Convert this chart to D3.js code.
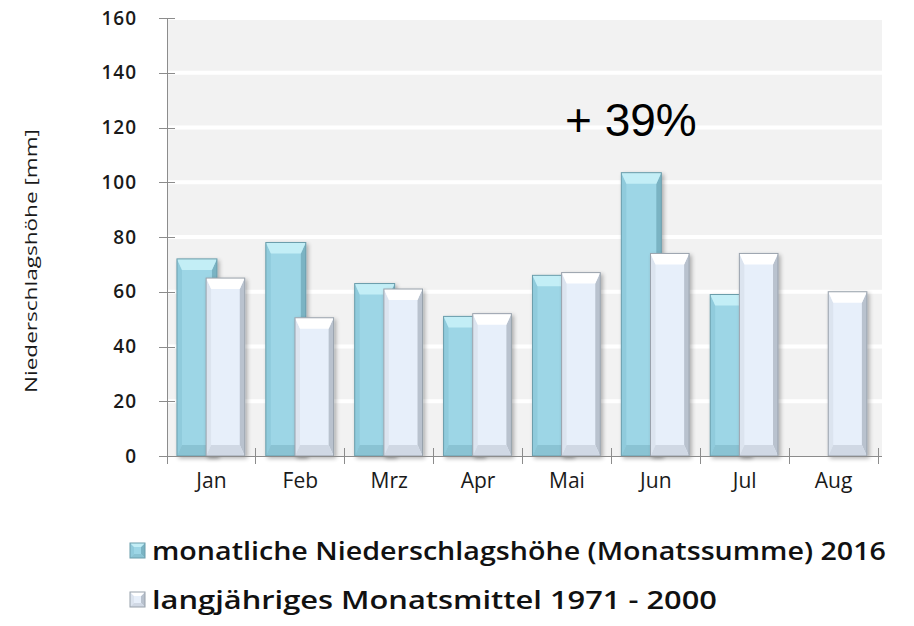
<!DOCTYPE html>
<head>
<meta charset="utf-8">
<script src="https://d3js.org/d3.v7.min.js"></script>
<style>
body {
  margin: 0;
  background: #fff;
}
.axis path, .axis line {
  stroke: #8c8c8c;
  shape-rendering: crispEdges;
}
.axis--y text {
  font: 600 19px "Open Sans", sans-serif;
  letter-spacing: 1px;
  fill: #1a1a1a;
}
.axis--x text {
  font: 500 21px "Open Sans", sans-serif;
  fill: #1a1a1a;
}
</style>
</head>
<body>
<div id="chart"></div>
<script>

// --- data ---
let months = ["Jan", "Feb", "Mrz", "Apr", "Mai", "Jun", "Jul", "Aug"];
let rain2016 = [72, 78, 63, 51, 66, 103.5, 59, null];   // Monatssumme 2016
let mean7100 = [65, 50.5, 61, 52, 67, 74, 74, 60];      // Mittel 1971-2000
let yTicks = [0, 20, 40, 60, 80, 100, 120, 140, 160];
let seriesNames = ["monatliche Niederschlagshöhe (Monatssumme) 2016",
                   "langjähriges Monatsmittel 1971 - 2000"];

let W = 914, H = 626;
let plot = {left: 167, right: 878, top: 18, bottom: 456};

let svg = d3.select("#chart").append("svg")
    .attr("width", W)
    .attr("height", H);

let x = d3.scaleBand().domain(months).range([plot.left, plot.right]).padding(0),
    y = d3.scaleLinear().domain([0, 160]).range([plot.bottom, plot.top]);

// bar styles: main, top bevel, left, right, bottom, stroke
let styles = [
  {main: "#9dd6e6", top: "#c3eef6", left: "#90cbdc", right: "#7ab3c3", bottom: "#8ac3d3", stroke: "#6b9dab"},
  {main: "#e7effa", top: "#ffffff", left: "#dce4ef", right: "#b9c2ce", bottom: "#d0d8e4", stroke: "#98a1ab"}
];

// shadow
let defs = svg.append("defs");
let f = defs.append("filter").attr("id", "shadow")
    .attr("x", "-20%").attr("y", "-5%").attr("width", "150%").attr("height", "115%");
f.append("feGaussianBlur").attr("in", "SourceAlpha").attr("stdDeviation", 2);
f.append("feOffset").attr("dx", 2).attr("dy", 2).attr("result", "b");
f.append("feComponentTransfer").append("feFuncA").attr("type", "linear").attr("slope", 0.3);
let m = f.append("feMerge");
m.append("feMergeNode");
m.append("feMergeNode").attr("in", "SourceGraphic");

// plot background
svg.append("rect")
    .attr("x", plot.left)
    .attr("y", plot.top)
    .attr("width", plot.right - plot.left + 4)
    .attr("height", plot.bottom - plot.top)
    .attr("fill", "#f2f2f2");

// grid
svg.append("g").selectAll("line")
  .data(yTicks.slice(1))
  .enter().append("line")
    .attr("x1", plot.left)
    .attr("x2", plot.right + 4)
    .attr("y1", function(d) { return y(d); })
    .attr("y2", function(d) { return y(d); })
    .attr("stroke", "#fff")
    .attr("stroke-width", 4);

// bars
let bw = x.bandwidth();
let layout = [
  {values: rain2016, off: 0.112, w: 0.45},
  {values: mean7100, off: 0.44, w: 0.435}
];

function bevelBar(g, x0, y0, w, h, st, b0, s0) {
  let b = Math.min(b0 || 11, h / 2), s = s0 || 5;
  g.append("rect").attr("x", x0).attr("y", y0).attr("width", w).attr("height", h)
      .attr("fill", st.main);
  let poly = function(pts, fill) {
    g.append("polygon").attr("points", pts.map(function(p) { return p.join(","); }).join(" "))
        .attr("fill", fill);
  };
  poly([[x0, y0], [x0 + s, y0 + b], [x0 + s, y0 + h - b], [x0, y0 + h]], st.left);
  poly([[x0 + w, y0], [x0 + w - s, y0 + b], [x0 + w - s, y0 + h - b], [x0 + w, y0 + h]], st.right);
  poly([[x0, y0 + h], [x0 + w, y0 + h], [x0 + w - s, y0 + h - b], [x0 + s, y0 + h - b]], st.bottom);
  poly([[x0, y0], [x0 + w, y0], [x0 + w - s, y0 + b], [x0 + s, y0 + b]], st.top);
  g.append("rect").attr("x", x0).attr("y", y0).attr("width", w).attr("height", h)
      .attr("fill", "none").attr("stroke", st.stroke).attr("stroke-width", 1);
}

layout.forEach(function(l, i) {
  let layer = svg.append("g").attr("class", "layer");
  months.forEach(function(mo, j) {
    let v = l.values[j];
    if (v == null) return;
    let g = layer.append("g").attr("filter", "url(#shadow)");
    bevelBar(g, x(mo) + bw * l.off, y(v), bw * l.w, y(0) - y(v), styles[i]);
  });
});

// y axis
let yAxis = svg.append("g")
    .attr("class", "axis axis--y")
    .attr("transform", "translate(" + plot.left + ",0)")
    .call(d3.axisLeft(y).tickValues(yTicks).tickSize(8).tickSizeOuter(0).tickPadding(22));
yAxis.selectAll(".tick line").attr("x1", 8);

// x axis: labels at centers, ticks at borders
let xAxis = svg.append("g")
    .attr("class", "axis axis--x")
    .attr("transform", "translate(0," + plot.bottom + ")")
    .call(d3.axisBottom(x).tickSize(0).tickSizeOuter(0).tickPadding(19));
xAxis.select(".domain").attr("d", "M" + (plot.left - 8) + ",0H" + (plot.right + 4));
xAxis.selectAll(".tick text").attr("dy", "0.6em");
xAxis.selectAll("line.border")
  .data(months.map(function(mo) { return x(mo); }).concat([plot.right]))
  .enter().append("line")
    .attr("class", "border")
    .attr("x1", function(d) { return d; })
    .attr("x2", function(d) { return d; })
    .attr("y1", -8)
    .attr("y2", 8);

// y title
svg.append("text")
    .attr("transform", "translate(37,261) rotate(-90)")
    .attr("text-anchor", "middle")
    .attr("textLength", 264)
    .attr("lengthAdjust", "spacingAndGlyphs")
    .style("font", "500 17px 'Open Sans', sans-serif")
    .style("fill", "#1a1a1a")
    .text("Niederschlagshöhe [mm]");

// annotation
svg.append("text")
    .attr("x", 565)
    .attr("y", 136)
    .style("font", "46px 'Liberation Sans', Arial, sans-serif")
    .style("fill", "#000")
    .text("+ 39%");

// legend
let legend = svg.append("g").selectAll("g")
  .data(seriesNames)
  .enter().append("g")
    .attr("transform", function(d, i) { return "translate(130," + (543 + i * 49) + ")"; });

legend.each(function(d, i) {
  bevelBar(d3.select(this), 0, 0, 15, 15, styles[i], 4, 4);
});

legend.append("text")
    .attr("x", 22)
    .attr("y", 17)
    .attr("textLength", function(d, i) { return i == 0 ? 734 : 565; })
    .attr("lengthAdjust", "spacingAndGlyphs")
    .style("font", "600 26px 'Open Sans', sans-serif")
    .style("fill", "#111")
    .text(function(d) { return d; });

</script>
</body>
